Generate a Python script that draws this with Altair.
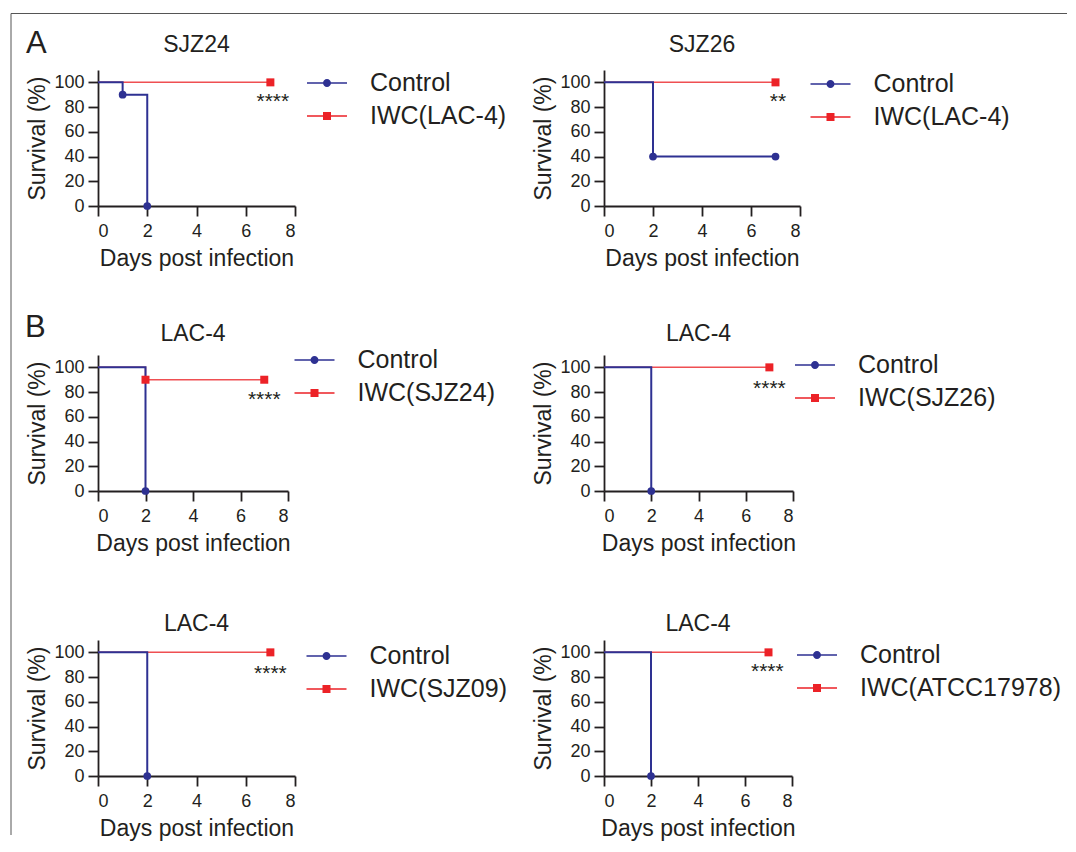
import altair as alt
import pandas as pd

# ---------------- data ----------------
panel_titles = ["SJZ24", "SJZ26", "LAC-4", "LAC-4", "LAC-4", "LAC-4"]
control_label = "Control"
treat_labels = ["IWC(LAC-4)", "IWC(LAC-4)", "IWC(SJZ24)", "IWC(SJZ26)",
                "IWC(SJZ09)", "IWC(ATCC17978)"]
control_days = [[0, 1, 2], [0, 2, 7], [0, 2], [0, 2], [0, 2], [0, 2]]
control_surv = [[100, 90, 0], [100, 40, 40], [100, 0], [100, 0], [100, 0], [100, 0]]
treat_days = [[0, 7], [0, 7], [0, 2, 7], [0, 7], [0, 7], [0, 7]]
treat_surv = [[100, 100], [100, 100], [100, 90, 90], [100, 100], [100, 100], [100, 100]]
sig_labels = ["****", "**", "****", "****", "****", "****"]
sig_days = [7.1, 7.1, 7.0, 7.0, 7.0, 6.95]
sig_surv = [87, 87, 77, 86, 86, 87]
x_ticks = [0, 2, 4, 6, 8]
y_ticks = [0, 20, 40, 60, 80, 100]
panel_letters = ["A", "B"]

# ---------------- styling ----------------
FONT = "Liberation Sans"
INK = "#231f20"
BLUE = "#2e3192"
RED = "#ec2227"
RED_LINE = "#ef4f52"
FRAME = "#555555"
PATH_CIRCLE = ("M-2,-0.08H2V0.08H-2Z "
               "M-0.4,0A0.4,0.4 0 1,1 0.4,0A0.4,0.4 0 1,1 -0.4,0Z")
PATH_SQUARE = "M-2,-0.08H2V0.08H-2Z M-0.4,-0.4H0.4V0.4H-0.4Z"

PLOT_H = 136
PANEL_W = [197, 196, 190, 189, 197, 188]
# per panel: legend symbol centre x, first legend row y, title y (all relative to plot)
layout = [
    (228.5, 13.5, -25.5),
    (226.0, 14.5, -25.5),
    (216.0, 5.5, -21.5),
    (210.5, 10.5, -21.5),
    (228.0, 16.5, -16.5),
    (212.5, 15.5, -16.5),
]


def panel(i, extras=None):
    width = PANEL_W[i]
    cx, ry, ty = layout[i]
    rows = []
    for d, s in zip(control_days[i], control_surv[i]):
        rows.append({"day": d, "surv": s, "group": control_label})
    for d, s in zip(treat_days[i], treat_surv[i]):
        rows.append({"day": d, "surv": s, "group": treat_labels[i]})
    df = pd.DataFrame(rows)
    domain = [control_label, treat_labels[i]]

    x = alt.X("day:Q", scale=alt.Scale(domain=[0, 8], nice=False),
              axis=alt.Axis(values=x_ticks, title="Days post infection",
                            labelPadding=6, titlePadding=7))
    y = alt.Y("surv:Q", scale=alt.Scale(domain=[0, 110], nice=False),
              axis=alt.Axis(values=y_ticks, title="Survival (%)",
                            labelPadding=4, titlePadding=4))
    base = alt.Chart(df).encode(x=x, y=y)

    is_t = alt.datum.group == treat_labels[i]
    is_c = alt.datum.group == control_label
    t_line = base.transform_filter(is_t).mark_line(
        interpolate="step-after", color=RED_LINE, strokeWidth=1.5)
    c_line = base.transform_filter(is_c).mark_line(
        interpolate="step-after", color=BLUE, strokeWidth=2)
    t_pts = base.transform_filter(is_t).transform_filter(alt.datum.day > 0).mark_square(
        color=RED, size=64, opacity=1)
    c_pts = base.transform_filter(is_c).transform_filter(alt.datum.day > 0).mark_circle(
        color=BLUE, size=60, opacity=1)

    leg = alt.Legend(title=None, orient="none", legendX=cx - 12, legendY=ry - 13,
                     labelFontSize=25, labelColor=INK, labelFont=FONT, labelLimit=400,
                     symbolSize=400, labelOffset=30.5, rowPadding=7, padding=0)
    legend_layer = base.transform_filter("false").mark_point(
        filled=True, opacity=1, size=400).encode(
        color=alt.Color("group:N", scale=alt.Scale(domain=domain, range=[BLUE, RED]),
                        legend=leg),
        shape=alt.Shape("group:N", scale=alt.Scale(domain=domain,
                                                   range=[PATH_CIRCLE, PATH_SQUARE]),
                        legend=leg),
    )

    sig_df = pd.DataFrame({"day": [sig_days[i]], "surv": [sig_surv[i]],
                           "label": [sig_labels[i]]})
    sig = alt.Chart(sig_df).mark_text(
        fontSize=21, color=INK, align="center", baseline="alphabetic", dy=10, font=FONT
    ).encode(x=x, y=y, text="label:N")

    title_df = pd.DataFrame({"t": [panel_titles[i]]})
    title = alt.Chart(title_df).mark_text(
        fontSize=23, color=INK, align="center", baseline="middle", font=FONT
    ).encode(x=alt.value(width / 2), y=alt.value(ty), text="t:N")

    layers = [t_line, c_line, t_pts, c_pts, legend_layer, sig, title]
    if extras:
        layers += extras
    return alt.layer(*layers).properties(width=width, height=PLOT_H)


dummy = pd.DataFrame({"k": [0]})
frame_top = alt.Chart(dummy).mark_rule(color=FRAME, strokeWidth=1).encode(
    x=alt.value(-87), x2=alt.value(969), y=alt.value(-56.5))
frame_left = alt.Chart(dummy).mark_rule(color=FRAME, strokeWidth=1).encode(
    x=alt.value(-87), y=alt.value(-56.5), y2=alt.value(765))
label_a = alt.Chart(dummy).mark_text(
    text=panel_letters[0], fontSize=31, align="left", baseline="middle", color=INK, font=FONT
).encode(x=alt.value(-72), y=alt.value(-26.5))
label_b = alt.Chart(dummy).mark_text(
    text=panel_letters[1], fontSize=31, align="left", baseline="middle", color=INK, font=FONT
).encode(x=alt.value(-73), y=alt.value(-27.5))

panels = [panel(0, [frame_top, frame_left, label_a]), panel(1),
          panel(2, [label_b]), panel(3), panel(4), panel(5)]

chart = alt.concat(*panels, columns=2, spacing={"row": 149, "column": 309},
                   bounds="flush").resolve_scale(
    color="independent", shape="independent", x="independent", y="independent"
).resolve_legend(color="independent", shape="independent").properties(
    padding={"left": 2, "top": 4, "right": 0, "bottom": 0}
).configure(font=FONT).configure_view(stroke="transparent").configure_axis(
    grid=False, domainColor=INK, domainWidth=1.8, tickColor=INK, tickWidth=1.8,
    tickSize=10, labelFontSize=18, labelColor=INK, labelFont=FONT,
    titleFontSize=23, titleFontWeight="normal", titleColor=INK, titleFont=FONT,
)

chart.save("out.html", embed_options={"renderer": "svg", "actions": False})
